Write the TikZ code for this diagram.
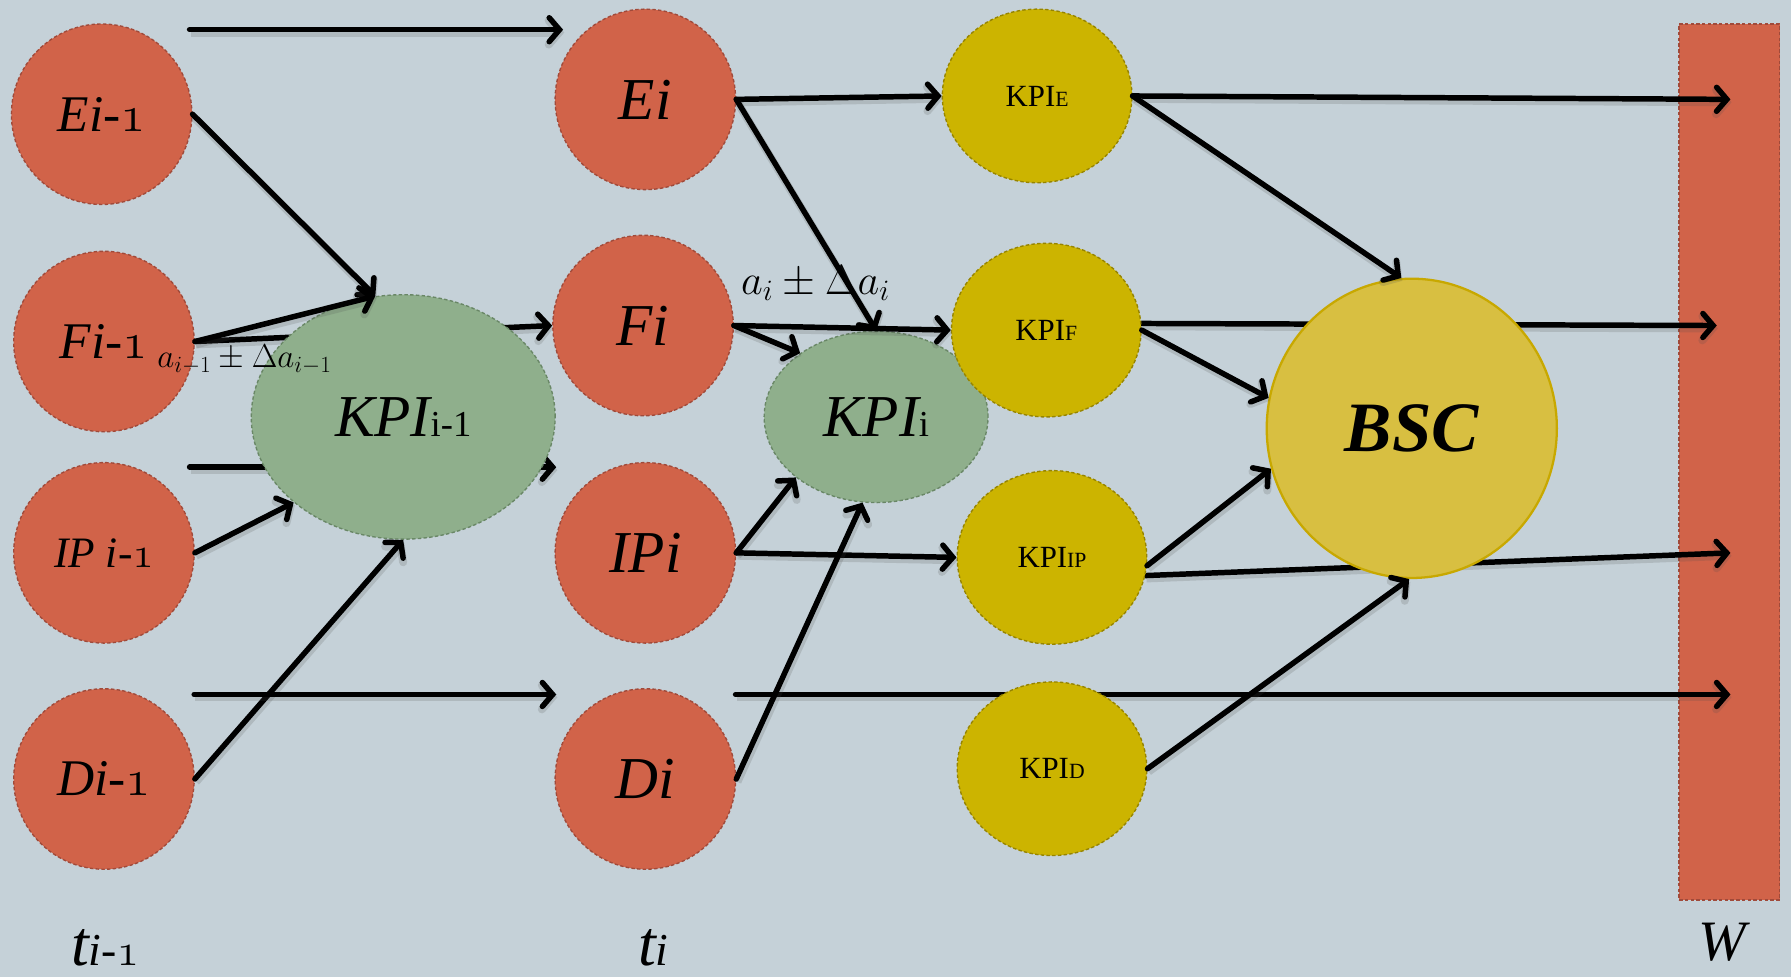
\RequirePackage{fix-cm}
\documentclass[tikz,border=0pt]{standalone}
\usepackage[no-math]{fontspec}
\setmainfont{Liberation Serif}
\usetikzlibrary{shapes.geometric,arrows.meta}
\definecolor{bgc}{RGB}{197,209,216}
\definecolor{redf}{RGB}{209,99,73}
\definecolor{redl}{RGB}{160,74,58}
\definecolor{grnf}{RGB}{143,175,140}
\definecolor{grnl}{RGB}{105,135,102}
\definecolor{yelf}{RGB}{204,180,0}
\definecolor{yell}{RGB}{150,132,0}
\definecolor{bscf}{RGB}{216,191,65}
\definecolor{bscl}{RGB}{200,168,0}
\newcommand\osone{{\usefont{OML}{cmm}{m}{it}1}}
\newcommand\fsz[1]{\fontsize{#1}{#1}\selectfont}
\pgfdeclarelayer{bottomlayer}
\pgfdeclarelayer{behindlayer}
\pgfsetlayers{bottomlayer,behindlayer,main}
\tikzset{
  dashborder/.style={dash pattern=on 3pt off 2pt, line width=1.2pt},
  rednode/.style={circle, fill=redf, draw=redl, dashborder, minimum size=158pt, inner sep=0pt},
  grnnode/.style={ellipse, fill=grnf, draw=grnl, dashborder, inner sep=0pt},
  yelnode/.style={ellipse, fill=yelf, draw=yell, dashborder, minimum width=166pt, minimum height=152pt, inner sep=0pt},
  bscnode/.style={ellipse, fill=bscf, draw=bscl, line width=2pt, minimum width=254pt, minimum height=262pt, inner sep=0pt},
  wbox/.style={rectangle, fill=redf, draw=redl, dashborder, minimum width=88pt, minimum height=767pt, inner sep=0pt},
  arr/.style={line width=4.8pt, line cap=round, -{Straight Barb[length=9pt,width=21pt,line cap=round]},
    preaction={draw=black!70, opacity=0.18, line width=7pt, transform canvas={shift={(1,2.5)}}}},
}
\begin{document}
\begin{tikzpicture}[x=1pt,y=-1pt]
\useasboundingbox (0,0) rectangle (1568,855);
\begin{pgfonlayer}{bottomlayer}
\fill[bgc] (0,0) rectangle (1568,855);
\node[wbox] (W) at (1514,404.5) {};
\end{pgfonlayer}

% red nodes
\node[rednode] (Em) at (89,100) {\fsz{45}\itshape Ei-\osone};
\node[rednode] (Fm) at (91,299) {\fsz{45}\itshape Fi-\osone};
\node[rednode] (IPm) at (91,484) {\fsz{38}\itshape IP i-\osone};
\node[rednode] (Dm) at (91,682) {\fsz{45}\itshape Di-\osone};
\node[rednode] (Ei) at (565,87) {\fsz{52}\itshape Ei};
\node[rednode] (Fi) at (563,285) {\fsz{52}\itshape Fi};
\node[rednode] (IPi) at (565,484) {\fsz{52}\itshape IPi};
\node[rednode] (Di) at (565,682) {\fsz{52}\itshape Di};
% green
\node[grnnode, minimum width=266pt, minimum height=214pt] (Km) at (353,365) {{\fsz{52}\itshape KPI}{\fsz{32}i-1}};
\node[grnnode, minimum width=196pt, minimum height=150pt] (Ki) at (767,365) {{\fsz{52}\itshape KPI}{\fsz{32}i}};
% yellow
\node[yelnode] (KE) at (908,84) {{\fsz{27}KPI}{\fsz{19}E}};
\node[yelnode] (KF) at (916,289) {{\fsz{27}KPI}{\fsz{19}F}};
\node[yelnode] (KIP) at (921,488) {{\fsz{27}KPI}{\fsz{19}IP}};
\node[yelnode] (KD) at (921,673) {{\fsz{27}KPI}{\fsz{19}D}};
\node[bscnode] (B) at (1236,375) {\fsz{62}\bfseries\itshape BSC};

% labels
\node (lab1) at (214,315) {\fsz{29}$a_{i-1}\pm\Delta a_{i-1}$};
\node (lab2) at (714,248) {\fsz{37}$a_{i}\pm\Delta a_{i}$};
\node[anchor=base] (t1) at (92,845) {\fsz{56}\itshape t{\fsz{40}i-\osone}};
\node[anchor=base] (t2) at (572,845) {\fsz{56}\itshape t{\fsz{40}i}};
\node[anchor=base] (Wl) at (1508,841) {\fsz{50}\itshape W};

% free ends
\coordinate (a1s) at (166,26);
\coordinate (a1e) at (493,26);
\coordinate (a5s) at (166,409);
\coordinate (a5e) at (487,409);
\coordinate (a8s) at (170,608);
\coordinate (a8e) at (487,608);
\coordinate (a16s) at (644,608);
\coordinate (w1) at (1515,87);
\coordinate (w2) at (1503,285);
\coordinate (w3) at (1515,484);
\coordinate (w4) at (1515,608);

\begin{pgfonlayer}{behindlayer}
\draw[arr] (Fm.east) -- (Fi.west);
\draw[arr] (a5s) -- (a5e);
\draw[arr] (a16s) -- (w4);
\draw[arr] (KF.4) -- (w2);
\draw[arr] (KIP.-11) -- (w3);
\end{pgfonlayer}

\draw[arr] (a1s) -- (a1e);
\draw[arr] (Em.east) -- (Km.103);
\draw[arr] (Fm.east) -- (Km.103);
\draw[arr] (IPm.east) -- (Km.218);
\draw[arr] (Dm.east) -- (Km.south);
\draw[arr] (a8s) -- (a8e);
\draw[arr] (Ei.east) -- (KE.west);
\draw[arr] (Ei.east) -- (Ki.north);
\draw[arr] (Fi.east) -- (KF.west);
\draw[arr] (Fi.east) -- (Ki.140);
\draw[arr] (IPi.east) -- (Ki.217);
\draw[arr] (IPi.east) -- (KIP.west);
\draw[arr] (Di.east) -- (Ki.261);
\draw[arr] (KE.east) -- (w1);
\draw[arr] (KE.east) -- (B.94);
\draw[arr] (KF.east) -- (B.168);
\draw[arr] (KIP.-5) -- (B.196);
\draw[arr] (KD.east) -- (B.269);
\end{tikzpicture}
\end{document}
